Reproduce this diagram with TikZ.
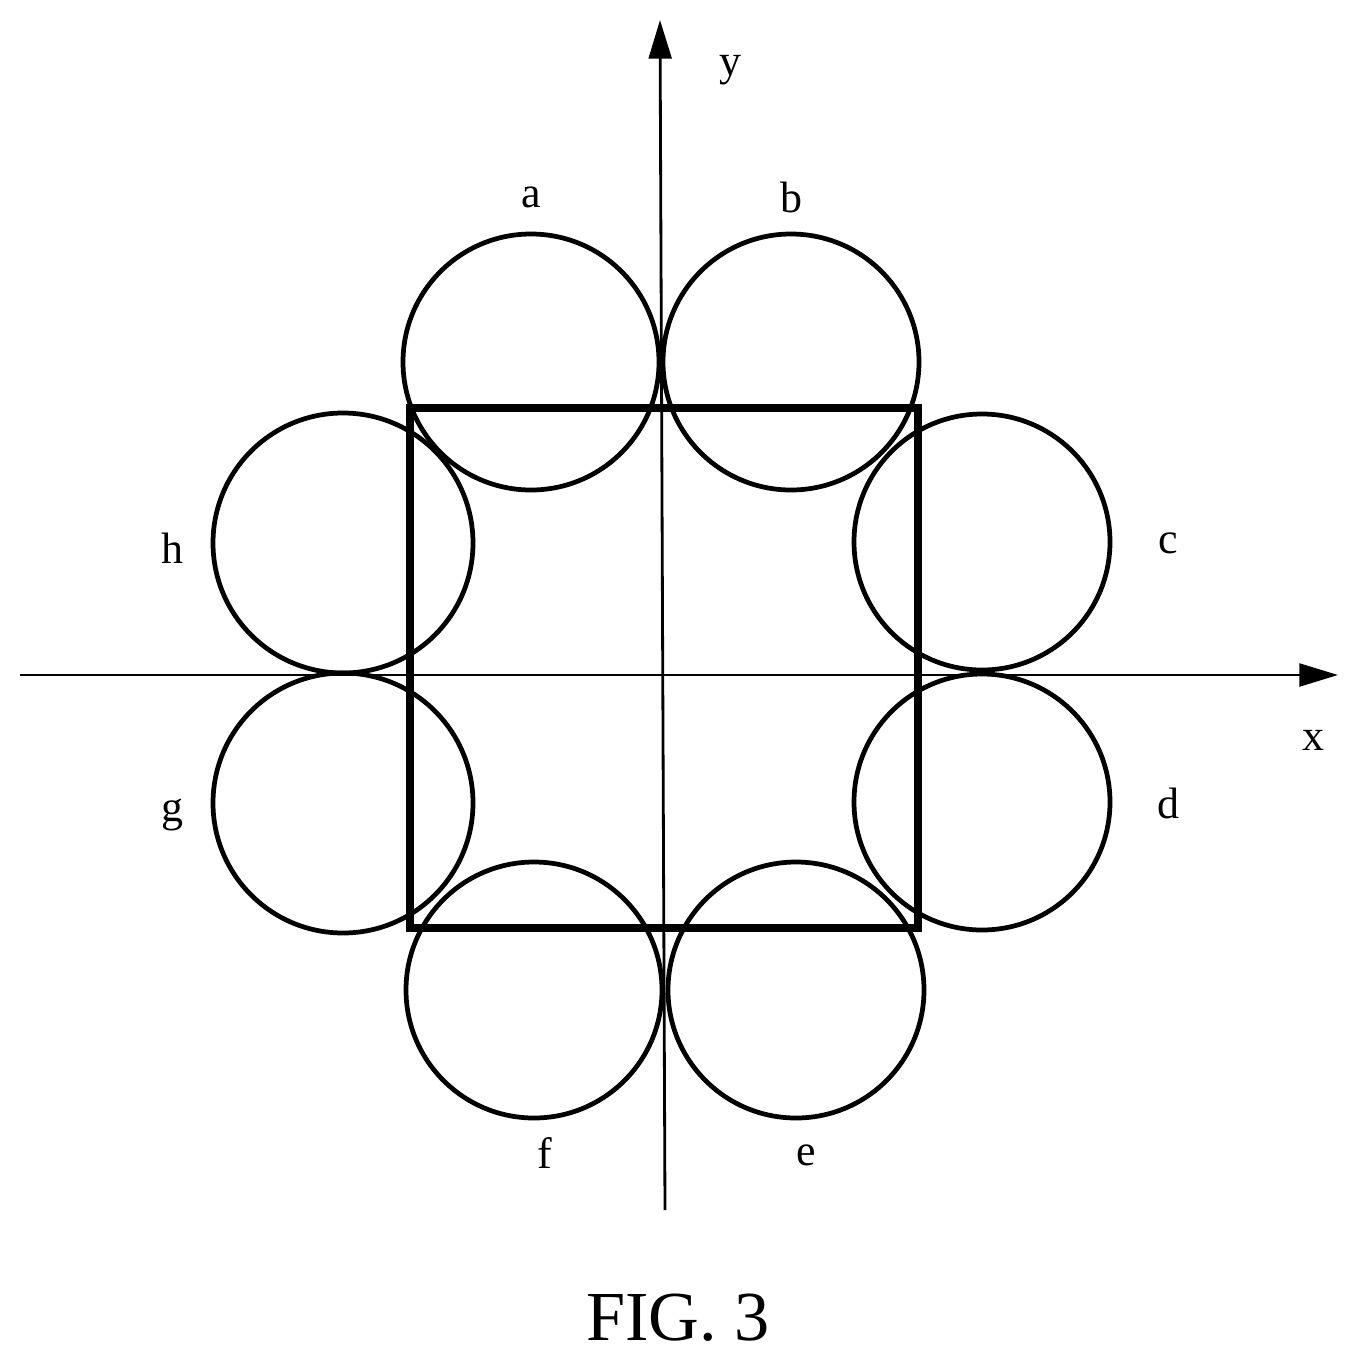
\documentclass[tikz,border=0pt]{standalone}
\usepackage{fontspec}
\setmainfont{Liberation Serif}
\usetikzlibrary{arrows,arrows.meta,positioning}

\begin{document}
\begin{tikzpicture}[x=0.02cm,y=-0.02cm]
			\tikzstyle{Ring}	= [line width=2.7pt, black]
			\tikzstyle{Frame}	= [line width=4.6pt, black]
			\tikzstyle{Axis}	= [line width=1.6pt, black, -{Triangle[length=22pt,width=13pt]}]
			\tikzstyle{Lbl}		= [font=\fontsize{25}{30}\selectfont, inner sep=0pt]

			\useasboundingbox (0,0) rectangle (1358,1363);

			\coordinate (xs) at (20,675);
			\coordinate (xe) at (1338,675);
			\coordinate (ys) at (665,1210);
			\coordinate (ye) at (660,20);
			\draw [Axis] (xs) -- (xe);
			\draw [Axis] (ys) -- (ye);

			\draw [Frame] (410,408) rectangle (918,928);

			\draw [Ring] (531,362) circle (128);
			\draw [Ring] (791,362) circle (128);
			\draw [Ring] (982,542) circle (128);
			\draw [Ring] (982,802) circle (128);
			\draw [Ring] (796,990) circle (128);
			\draw [Ring] (534,990) circle (128);
			\draw [Ring] (343,803) circle (130);
			\draw [Ring] (343,543) circle (130);

			\node (la) at (531,197) [Lbl] {a};
			\node (lb) at (791,197) [Lbl] {b};
			\node (lc) at (1168,543) [Lbl] {c};
			\node (ld) at (1168,803) [Lbl] {d};
			\node (le) at (806,1155) [Lbl] {e};
			\node (lf) at (545,1153) [Lbl] {f};
			\node (lg) at (172,815) [Lbl] {g};
			\node (lh) at (172,548) [Lbl] {h};
			\node (ly) at (730,70) [Lbl] {y};
			\node (lx) at (1313,740) [Lbl] {x};
			\node (fig) at (678,1318) [font=\fontsize{40}{48}\selectfont] {FIG. 3};
\end{tikzpicture}
\end{document}
